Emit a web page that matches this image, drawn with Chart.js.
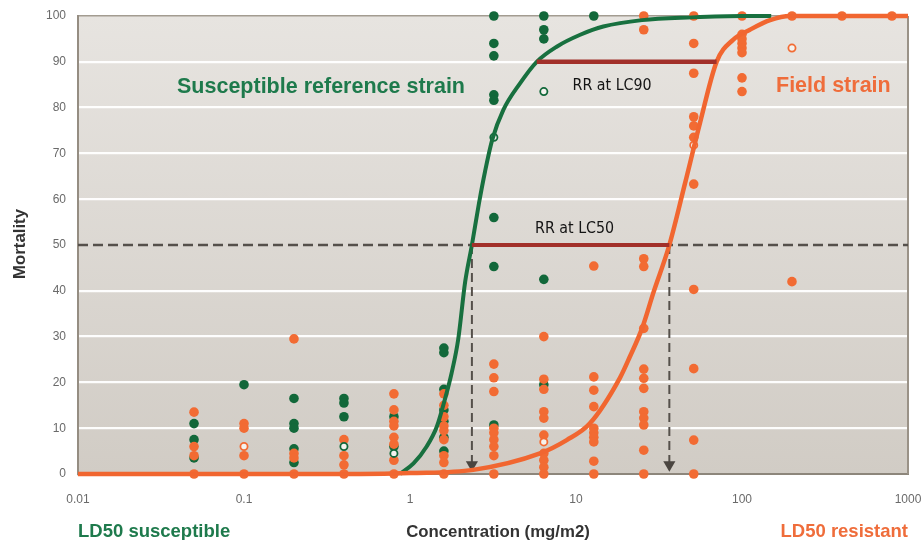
<!DOCTYPE html>
<html>
<head>
<meta charset="utf-8">
<script src="https://cdn.jsdelivr.net/npm/chart.js@4.4.1/dist/chart.umd.min.js"></script>
<style>
  html, body { margin: 0; padding: 0; background: #ffffff; }
  #wrap { width: 924px; height: 540px; position: relative; }
</style>
</head>
<body>
<div id="wrap"><canvas id="c" width="924" height="540"></canvas></div>
<script>
// Bioassay doses (mg/m2)
const doses = [0.05, 0.1, 0.2, 0.4, 0.8, 1.6, 3.2, 6.4, 12.8, 25.6, 51.2, 100, 200, 400, 800];

// Observed mortality (%) per dose, susceptible reference strain
const susceptibleMortality = [
  [11, 7.5, 3.5],
  [19.5],
  [16.5, 11, 10, 5.5, 2.5],
  [16.5, 15.5, 12.5],
  [12.5, 6],
  [27.5, 26.5, 18.5, 14, 11.5, 8, 5],
  [100, 94, 91.3, 82.8, 81.6, 56, 45.3, 10.7],
  [100, 97, 95, 42.5, 19.5],
  [100],
  [], [], [], [], [], []
];
// Replicates shown as open markers, susceptible strain
const susceptibleOpen = [[], [], [], [6], [4.5], [], [73.5], [83.5], [], [], [], [], [], [], []];

// Observed mortality (%) per dose, field strain
const fieldMortality = [
  [13.5, 6, 4, 0],
  [11, 10, 4, 0],
  [29.5, 4.5, 3.5, 0],
  [7.5, 4, 2, 0],
  [17.5, 14, 11.5, 10.5, 8, 6.5, 3, 0],
  [17.5, 15, 12.5, 10.5, 9.5, 7.5, 4, 2.5, 0],
  [24, 21, 18, 10, 9, 7.5, 6, 4, 0],
  [30, 20.7, 18.5, 13.6, 12.2, 8.5, 4.5, 3, 1.5, 0],
  [45.4, 21.2, 18.3, 14.7, 10, 9, 8, 7, 2.8, 0],
  [100, 97, 47, 45.3, 31.8, 22.9, 20.9, 18.7, 13.6, 12.2, 10.7, 5.2, 0],
  [100, 94, 87.5, 78, 76, 73.5, 63.3, 40.3, 23, 7.4, 0],
  [100, 96, 95, 94, 93, 92, 86.5, 83.5],
  [100, 42],
  [100],
  [100]
];
// Replicates shown as open markers, field strain
const fieldOpen = [[], [6], [], [], [], [], [], [7], [], [], [71.8], [], [93], [], []];

// Fitted dose-response curves
const susceptibleCurveConc = [0.87, 1.05, 1.26, 1.45, 1.62, 1.78, 1.95, 2.15, 2.36, 2.6, 2.83, 3.13, 3.65, 4.6, 5.8, 7.65, 10.6, 14.6, 25, 50, 100, 150];
const susceptibleCurveMortality = [0, 2.3, 6, 10.3, 16.2, 22, 29.3, 42, 50, 59, 66, 73, 79.5, 85.3, 90, 93.3, 95.9, 97.7, 99.1, 99.7, 100, 100];
const fieldCurveConc = [0.01, 0.5, 1.0, 2.4, 6.07, 8.79, 12.1, 18.4, 21.1, 25, 29.2, 36.5, 45.4, 55.8, 70.3, 88.3, 111.6, 147.5, 195, 1000];
const fieldCurveMortality = [0, 0, 0.2, 0.9, 4.5, 7.4, 11, 21, 25.6, 31.8, 39.5, 50, 63.5, 76.6, 90, 94.8, 97, 99.1, 100, 100];

// Lethal concentrations [susceptible, field]
const lc50 = [2.36, 36.5];
const lc90 = [5.8, 70.3];

// Axis ticks
const xTickValues = [0.01, 0.1, 1, 10, 100, 1000];
const xTickLabels = ['0.01', '0.1', '1', '10', '100', '1000'];
const yTickValues = [0, 10, 20, 30, 40, 50, 60, 70, 80, 90, 100];

const GREEN = '#12683a';
const ORANGE = '#f26b33';
const RR_RED = '#a2302a';
const GUIDE = '#55504b';

function toPoints(values) {
  const out = [];
  doses.forEach((d, i) => values[i].forEach(m => out.push({ x: d, y: m })));
  return out;
}
function toCurve(xs, ys) {
  return xs.map((x, i) => ({ x: x, y: ys[i] }));
}

const lineBase = { showLine: true, pointRadius: 0, pointHoverRadius: 0, fill: false, clip: false, tension: 0 };

const datasets = [
  Object.assign({}, lineBase, {
    label: 'RR at LC90',
    data: [{ x: lc90[0], y: 90 }, { x: lc90[1], y: 90 }],
    borderColor: RR_RED, borderWidth: 4.5
  }),
  Object.assign({}, lineBase, {
    label: 'RR at LC50',
    data: [{ x: lc50[0], y: 50 }, { x: lc50[1], y: 50 }],
    borderColor: RR_RED, borderWidth: 4
  }),
  Object.assign({}, lineBase, {
    label: 'Field strain fit',
    data: toCurve(fieldCurveConc, fieldCurveMortality),
    borderColor: '#f16630', borderWidth: 4.5, cubicInterpolationMode: 'monotone'
  }),
  Object.assign({}, lineBase, {
    label: 'Susceptible fit',
    data: toCurve(susceptibleCurveConc, susceptibleCurveMortality),
    borderColor: '#18703f', borderWidth: 4, cubicInterpolationMode: 'monotone'
  }),
  Object.assign({}, lineBase, {
    label: 'LC50 susceptible',
    data: [{ x: lc50[0], y: 50 }, { x: lc50[0], y: 2 }],
    borderColor: GUIDE, borderWidth: 2, borderDash: [9, 5],
    pointRadius: [0, 7], pointStyle: 'triangle', rotation: 180,
    pointBackgroundColor: '#4a4540', pointBorderColor: '#4a4540', pointBorderWidth: 0
  }),
  Object.assign({}, lineBase, {
    label: 'LC50 field',
    data: [{ x: lc50[1], y: 50 }, { x: lc50[1], y: 2 }],
    borderColor: GUIDE, borderWidth: 2, borderDash: [9, 5],
    pointRadius: [0, 7], pointStyle: 'triangle', rotation: 180,
    pointBackgroundColor: '#4a4540', pointBorderColor: '#4a4540', pointBorderWidth: 0
  }),
  Object.assign({}, lineBase, {
    label: '50 %',
    data: [{ x: xTickValues[0], y: 50 }, { x: xTickValues[xTickValues.length - 1], y: 50 }],
    borderColor: GUIDE, borderWidth: 2.5, borderDash: [10, 5]
  }),
  {
    label: 'Field open', data: toPoints(fieldOpen), showLine: false, clip: false,
    pointRadius: 3.6, pointBorderWidth: 1.8, pointBackgroundColor: '#f4f2ee', pointBorderColor: ORANGE
  },
  {
    label: 'Susceptible open', data: toPoints(susceptibleOpen), showLine: false, clip: false,
    pointRadius: 3.6, pointBorderWidth: 1.8, pointBackgroundColor: '#f4f2ee', pointBorderColor: GREEN
  },
  {
    label: 'Field strain', data: toPoints(fieldMortality), showLine: false, clip: false,
    pointRadius: 4.8, pointBorderWidth: 0, pointBackgroundColor: ORANGE, pointBorderColor: ORANGE
  },
  {
    label: 'Susceptible reference strain', data: toPoints(susceptibleMortality), showLine: false, clip: false,
    pointRadius: 4.8, pointBorderWidth: 0, pointBackgroundColor: GREEN, pointBorderColor: GREEN
  }
];

// Plot background, frame and text annotations
const decor = {
  id: 'decor',
  beforeDraw(chart) {
    const { ctx, chartArea: a } = chart;
    const g = ctx.createLinearGradient(0, a.top, 0, a.bottom);
    g.addColorStop(0, '#e7e4e0');
    g.addColorStop(1, '#d1ccc5');
    ctx.save();
    ctx.fillStyle = g;
    ctx.fillRect(a.left, a.top, a.right - a.left, a.bottom - a.top);
    ctx.restore();
  },
  beforeDatasetsDraw(chart) {
    const { ctx, chartArea: a } = chart;
    ctx.save();
    ctx.strokeStyle = '#9a9287';
    ctx.lineWidth = 2;
    ctx.beginPath();
    ctx.moveTo(a.right, a.top);
    ctx.lineTo(a.right, a.bottom);
    ctx.stroke();
    ctx.restore();
  },
  afterDraw(chart) {
    const { ctx, chartArea: a } = chart;
    ctx.save();
    ctx.textBaseline = 'alphabetic';

    ctx.font = 'bold 21.5px "Liberation Sans", Arial, sans-serif';
    ctx.textAlign = 'left';
    ctx.fillStyle = '#1e7a4c';
    ctx.fillText('Susceptible reference strain', a.left + 99, a.top + 76.5);
    ctx.fillStyle = '#ef6d3b';
    ctx.fillText('Field strain', a.left + 698, a.top + 76);

    ctx.font = '16px "DejaVu Sans", sans-serif';
    ctx.fillStyle = '#141414';
    [['RR at LC90', a.left + 494.5, a.top + 73.5], ['RR at LC50', a.left + 457, a.top + 217]].forEach(([t, x, y]) => {
      ctx.save();
      ctx.translate(x, y);
      ctx.scale(0.89, 1);
      ctx.fillText(t, 0, 0);
      ctx.restore();
    });

    ctx.font = 'bold 18.5px "Liberation Sans", Arial, sans-serif';
    ctx.fillStyle = '#1e7a4c';
    ctx.textAlign = 'left';
    ctx.fillText('LD50 susceptible', a.left, 537);
    ctx.fillStyle = '#ef6d3b';
    ctx.textAlign = 'right';
    ctx.fillText('LD50 resistant', a.right, 537);

    ctx.font = 'bold 16.8px "Liberation Sans", Arial, sans-serif';
    ctx.fillStyle = '#333333';
    ctx.textAlign = 'center';
    ctx.fillText('Concentration (mg/m2)', 498, 537);

    ctx.translate(24.5, (a.top + a.bottom) / 2 - 1);
    ctx.rotate(-Math.PI / 2);
    ctx.fillText('Mortality', 0, 0);
    ctx.restore();
  }
};

new Chart(document.getElementById('c'), {
  type: 'scatter',
  data: { datasets: datasets },
  plugins: [decor],
  options: {
    responsive: false,
    animation: false,
    devicePixelRatio: 1,
    layout: { padding: { top: 16, right: 16, left: 0, bottom: 0 } },
    plugins: { legend: { display: false }, tooltip: { enabled: false } },
    scales: {
      x: {
        type: 'logarithmic',
        min: xTickValues[0],
        max: xTickValues[xTickValues.length - 1],
        afterBuildTicks(axis) { axis.ticks = xTickValues.map(v => ({ value: v, major: true })); },
        afterFit(axis) {
          axis.height = 66;
          axis.paddingLeft = 0;
          axis.paddingRight = 0;
        },
        ticks: {
          autoSkip: false, maxRotation: 0, padding: 18,
          color: '#6a6a6a',
          font: { family: '"Liberation Sans", Arial, sans-serif', size: 12 },
          callback(v) { const i = xTickValues.indexOf(v); return i >= 0 ? xTickLabels[i] : ''; }
        },
        grid: { display: false, drawTicks: false },
        border: { display: true, color: '#8d867b', width: 2 }
      },
      y: {
        min: 0, max: 100,
        afterBuildTicks(axis) { axis.ticks = yTickValues.map(v => ({ value: v })); },
        afterFit(axis) {
          axis.width = 78;
          axis.paddingTop = 0;
          axis.paddingBottom = 0;
        },
        ticks: {
          padding: 12, color: '#6a6a6a',
          font: { family: '"Liberation Sans", Arial, sans-serif', size: 12 }
        },
        grid: {
          drawTicks: false,
          color(c) {
            const v = c.tick.value;
            if (v === 100) return '#a39c91';
            if (v === 0 || v === 50) return 'rgba(0,0,0,0)';
            return 'rgba(255,255,255,0.95)';
          },
          lineWidth(c) { return c.tick.value === 100 ? 1.5 : 2.2; }
        },
        border: { display: true, color: '#958d82', width: 2 }
      }
    }
  }
});
</script>
</body>
</html>
